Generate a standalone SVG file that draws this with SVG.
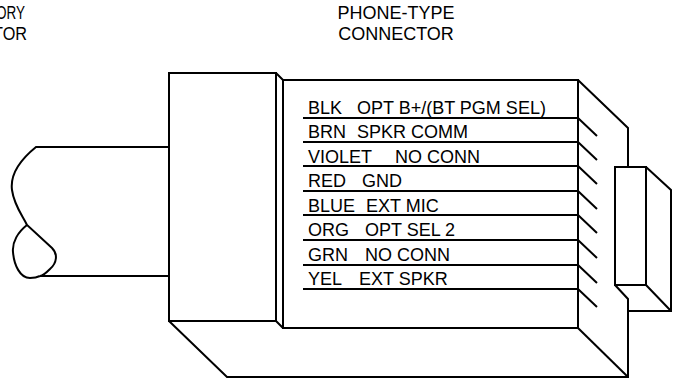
<svg xmlns="http://www.w3.org/2000/svg" width="679" height="384" viewBox="0 0 679 384">
<style>
.s{fill:none;stroke:#000;stroke-width:2;stroke-linejoin:miter;stroke-linecap:butt}
text{font-family:"Liberation Sans",Arial,sans-serif;font-size:18px;fill:#000}
</style>
<rect width="679" height="384" fill="#fff"/>
<g id="accessory-label">
<text x="-4" y="19" textLength="29" lengthAdjust="spacingAndGlyphs">ORY</text>
<text x="-7" y="40" textLength="34" lengthAdjust="spacingAndGlyphs">TOR</text>
</g>
<g id="phone-label">
<text x="396" y="19" text-anchor="middle">PHONE-TYPE</text>
<text x="396" y="40" text-anchor="middle">CONNECTOR</text>
</g>
<g id="cable">
<path class="s" d="M169,147 L36,147 C20,160 10,175 12,190 C14,205 22,215 27,225 L52,248 C58,254 57,263 50,269 C46,273 42,276 40,276 L169,276"/>
<path class="s" d="M27,225 C18,232 12,242 13,252 C14,265 20,278 30,278 C35,278 38,277 40,276"/>
</g>
<g id="connector-body">
<rect class="s" x="169" y="73" width="107" height="248"/>
<path class="s" d="M276,73 L283,80 M276,321 L283,328"/>
<rect class="s" x="283" y="80" width="295" height="248"/>
<path class="s" d="M578,80 L628,128 L628,167"/>
<path class="s" d="M169,321 L227,377 L628,377 L628,299 L615,285"/>
<path class="s" d="M578,328 L628,377"/>
</g>
<g id="latch">
<rect class="s" x="615" y="167" width="31" height="118"/>
<path class="s" d="M646,167 L671,190 L671,311 L628,311 M646,285 L671,311"/>
</g>
<g id="wire-table">
<path class="s" d="M303,118H578 M303,142H578 M303,166H578 M303,191H578 M303,215H578 M303,240H578 M303,265H578 M303,289H578"/>
<path class="s" d="M578,118l19,18 M578,142l19,18 M578,166l19,18 M578,191l19,18 M578,215l19,18 M578,240l19,18 M578,265l19,18 M578,289l19,18"/>
<text x="308" y="113.5">BLK<tspan x="357">OPT B+/(BT PGM SEL)</tspan></text>
<text x="308" y="138">BRN<tspan x="357">SPKR COMM</tspan></text>
<text x="308" y="162.5">VIOLET<tspan x="395">NO CONN</tspan></text>
<text x="308" y="187">RED<tspan x="362">GND</tspan></text>
<text x="308" y="211.5">BLUE<tspan x="366">EXT MIC</tspan></text>
<text x="308" y="236">ORG<tspan x="365">OPT SEL 2</tspan></text>
<text x="308" y="260.5">GRN<tspan x="365">NO CONN</tspan></text>
<text x="308" y="285">YEL<tspan x="359">EXT SPKR</tspan></text>
</g>
</svg>
